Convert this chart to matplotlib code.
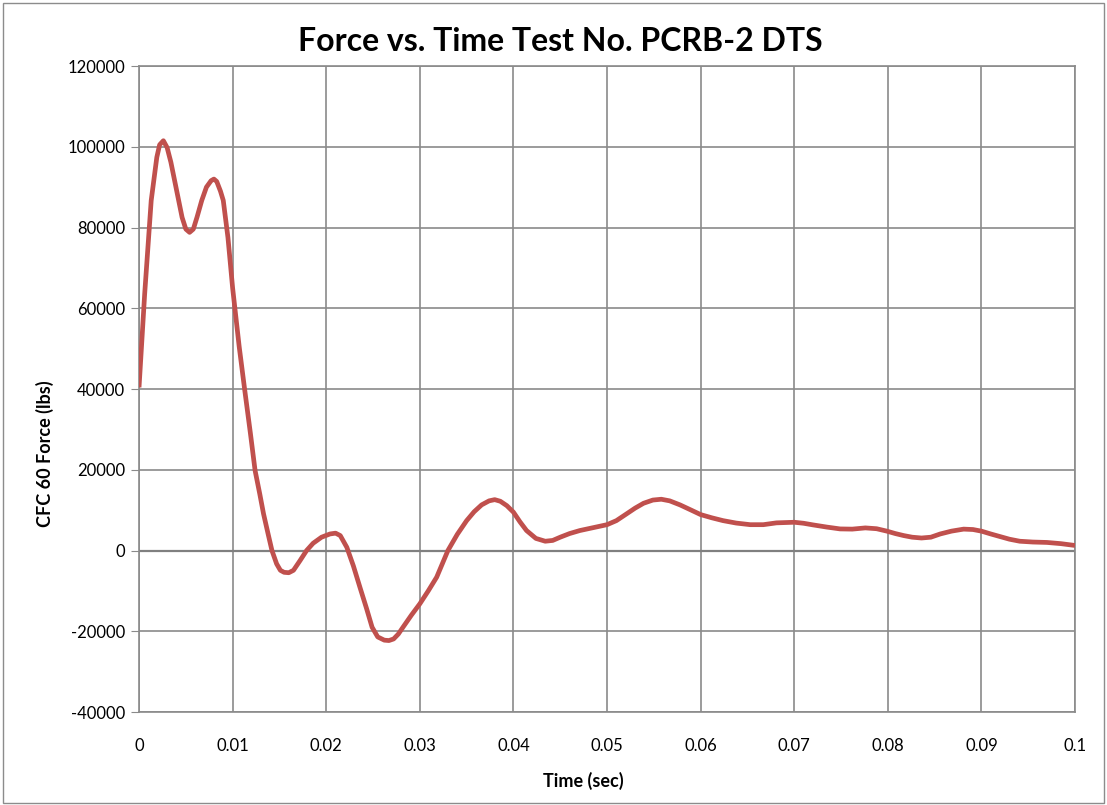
import matplotlib
matplotlib.use("Agg")
import matplotlib.pyplot as plt
from matplotlib.patches import Rectangle

plt.rcParams["font.family"] = ["Lato", "DejaVu Sans"]
plt.rcParams["axes.unicode_minus"] = False

# time (sec) and CFC 60 filtered force (lbs)
time_s = [
    0.0000, 0.0006, 0.0013, 0.0019, 0.0022, 0.0026, 0.0030, 0.0034, 0.0039,
    0.0046, 0.0050, 0.0054, 0.0058, 0.0062, 0.0067, 0.0072, 0.0077, 0.0080,
    0.0083, 0.0087, 0.0090, 0.0095, 0.0100, 0.0107, 0.0113, 0.0119, 0.0124,
    0.0129, 0.0133, 0.0138, 0.0142, 0.0147, 0.0151, 0.0155, 0.0160, 0.0165,
    0.0172, 0.0179, 0.0186, 0.0195, 0.0204, 0.0210, 0.0215, 0.0222, 0.0229,
    0.0236, 0.0243, 0.0249, 0.0255, 0.0262, 0.0267, 0.0272, 0.0277, 0.0282,
    0.0291, 0.0300, 0.0309, 0.0318, 0.0330, 0.0340, 0.0350, 0.0358, 0.0366,
    0.0374, 0.0380, 0.0386, 0.0393, 0.0400, 0.0407, 0.0414, 0.0424, 0.0434,
    0.0442, 0.0450, 0.0460, 0.0471, 0.0486, 0.0500, 0.0510, 0.0521, 0.0530,
    0.0539, 0.0549, 0.0558, 0.0567, 0.0578, 0.0590, 0.0600, 0.0612, 0.0624,
    0.0638, 0.0653, 0.0667, 0.0681, 0.0700, 0.0710, 0.0720, 0.0735, 0.0749,
    0.0762, 0.0776, 0.0788, 0.0799, 0.0808, 0.0817, 0.0826, 0.0836, 0.0846,
    0.0856, 0.0868, 0.0881, 0.0891, 0.0900, 0.0910, 0.0920, 0.0930, 0.0941,
    0.0955, 0.0970, 0.0985, 0.1000,
]
force_lbs = [
    40400, 63500, 86700, 97400, 100500, 101500, 99800, 96200, 90500,
    82500, 79600, 78800, 79600, 82600, 86700, 90000, 91600, 92000,
    91400, 89000, 86700, 77500, 65000, 50500, 39600, 29000, 19800,
    14000, 9100, 4000, 0, -3300, -4900, -5400, -5500, -4900,
    -2500, 0, 1800, 3300, 4100, 4300, 3700, 800, -3800,
    -9100, -14300, -19000, -21400, -22200, -22300, -21900, -20700, -19000,
    -16000, -13200, -10000, -6600, 0, 4000, 7400, 9600, 11300,
    12300, 12600, 12200, 11100, 9500, 7100, 4950, 3000, 2300,
    2500, 3300, 4200, 4950, 5700, 6400, 7400, 9100, 10500,
    11700, 12500, 12700, 12300, 11300, 10000, 8900, 8100, 7400,
    6800, 6400, 6400, 6850, 7000, 6750, 6350, 5800, 5350,
    5300, 5600, 5400, 4800, 4200, 3700, 3300, 3100, 3300,
    4100, 4800, 5300, 5200, 4800, 4100, 3450, 2800, 2300,
    2100, 2000, 1700, 1250,
]

fig = plt.figure(figsize=(11.07, 8.05), dpi=100)
ax = fig.add_axes([0.1256, 0.1155, 0.8455, 0.8025])

# outer chart border
fig.patches.append(Rectangle((0.003, 0.002), 0.994, 0.994, transform=fig.transFigure,
                             fill=False, edgecolor="#8c8c8c", linewidth=1.0))

ax.plot(time_s, force_lbs, color="#C0504D", linewidth=3.4, solid_capstyle="butt",
        solid_joinstyle="round", zorder=3)

ax.set_xlim(0, 0.1)
ax.set_ylim(-40000, 120000)
ax.set_xticks([i / 100 for i in range(11)])
ax.set_xticklabels(["0"] + [f"{i / 100:g}" for i in range(1, 10)] + ["0.1"])
ax.set_yticks(range(-40000, 120001, 20000))

ax.grid(True, color="#8a8a8a", linewidth=1.2)
ax.axhline(0, color="#808080", linewidth=1.6, zorder=2)
ax.set_axisbelow(True)
for side in ax.spines.values():
    side.set_color("#8a8a8a")
    side.set_linewidth(1.2)

ax.tick_params(axis="y", length=6, color="#8a8a8a", labelsize=12, pad=4)
ax.tick_params(axis="x", length=0, labelsize=12, pad=19)

fig.text(0.506, 0.949, "Force vs. Time Test No. PCRB-2 DTS", fontsize=23,
         fontweight="bold", ha="center", va="center")
ax.set_xlabel("Time (sec)", fontsize=13, fontweight="bold", va="center")
ax.xaxis.set_label_coords(0.475, -0.107)
ax.set_ylabel("CFC 60 Force (lbs)", fontsize=13, fontweight="bold", va="center")
ax.yaxis.set_label_coords(-0.100, 0.40)

fig.savefig("out.png", dpi=100)
